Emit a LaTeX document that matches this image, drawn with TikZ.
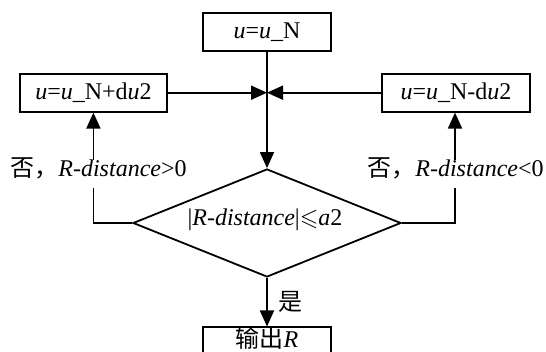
\documentclass[tikz,border=0pt]{standalone}
\usepackage{amssymb}
\usepackage{fontspec}
\setmainfont{Liberation Serif}
\newfontfamily\cjk{Noto Sans CJK SC}
\usetikzlibrary{shapes.geometric,arrows.meta}
\begin{document}
\begin{tikzpicture}[x=1pt,y=-1pt,
  every node/.style={font=\fontsize{24}{28}\selectfont},
  boxnode/.style={draw,line width=1.8pt,minimum height=38pt,inner sep=1pt},
  decnode/.style={draw,line width=1.8pt,diamond,minimum width=268pt,minimum height=108pt,inner sep=0pt},
  conn/.style={line width=1.8pt},
  arr/.style={line width=1.8pt,-{Triangle[length=16pt,width=14pt]}},
  lbl/.style={inner sep=0pt}]
\useasboundingbox (0,0) rectangle (546,352);
\node[boxnode,minimum width=128pt] (top) at (267,32) {\textit{u}=\textit{u}\_N};
\node[boxnode,minimum width=147pt] (lb) at (93.5,92.7) {\textit{u}=\textit{u}\_N+d\textit{u}2};
\node[boxnode,minimum width=148pt] (rb) at (456,92.7) {\textit{u}=\textit{u}\_N-d\textit{u}2};
\coordinate (j) at (267,92.7);
\node[decnode] (d) at (267,223) {};
\node[lbl] (dt) at (265,220) {|\textit{R-distance}|$\leqslant$\textit{a}2};
\node[boxnode,minimum width=128pt,minimum height=32pt,anchor=north] (out) at (267,326.5) {};
\node[lbl] (outt) at (267,338) {{\cjk 输出}\textit{R}};
\node[lbl,anchor=base] (ll) at (98.5,177) {{\cjk 否，}\textit{R-distance}>0};
\node[lbl,anchor=base] (rl) at (455.5,177) {{\cjk 否，}\textit{R-distance}<0};
\node[lbl] (yes) at (290,302) {\cjk 是};
\coordinate (l1) at (93.4,188);
\coordinate (l2) at (93.4,160);
\coordinate (r1) at (455,188);
\coordinate (r2) at (455,160);
\draw[conn] (top.south) -- (j);
\draw[arr] (j) -- (d.north);
\draw[arr] (lb.east) -- (j);
\draw[arr] (rb.west) -- (j);
\draw[conn] (d.west) -| (l1);
\draw[arr] (l2) -- (l2 |- lb.south);
\draw[conn] (d.east) -| (r1);
\draw[arr] (r2) -- (r2 |- rb.south);
\draw[arr] (d.south) -- (out.north);
\end{tikzpicture}
\end{document}
